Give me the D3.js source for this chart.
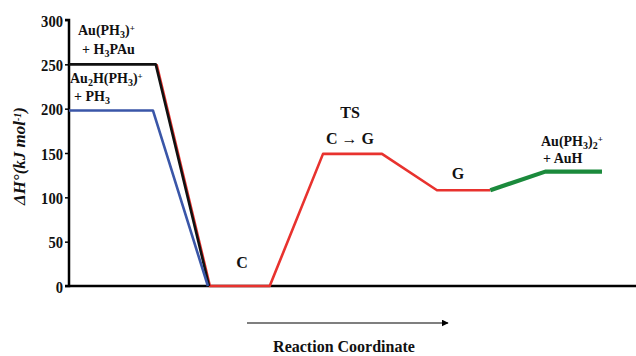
<!DOCTYPE html>
<html>
<head>
<meta charset="utf-8">
<script src="https://cdn.jsdelivr.net/npm/d3@7"></script>
</head>
<body style="margin:0; background:#fff">
<svg id="chart" width="636" height="356" font-family="Liberation Serif" font-weight="bold"></svg>
<script>
// reaction coordinate (arbitrary units 0..100) and enthalpy (kJ/mol)
var blackX = [0, 15.3, 24.7],
    blackY = [250, 250, 0];
var blueX = [0, 14.8, 24.5],
    blueY = [198, 198, 0];
var redX = [15.45, 24.85, 35.4, 44.8, 55.2, 64.9, 74.3],
    redY = [250, 0, 0, 149, 149, 108, 108];
var greenX = [74.3, 84, 94],
    greenY = [108, 129, 129];
var yTicks = [0, 50, 100, 150, 200, 250, 300];

var FONT = 'Liberation Serif';

var svg = d3.select('#chart'),
    x = d3.scaleLinear().domain([0, 100]).range([69, 636]),
    y = d3.scaleLinear().domain([0, 300]).range([286, 20]);

function pts(xs, ys) {
    return xs.map(function (v, i) { return [v, ys[i]]; });
}

var line = d3.line()
    .x(function (d) { return x(d[0]); })
    .y(function (d) { return y(d[1]); });

// y axis
var yAxis = svg.append('g')
    .attr('transform', 'translate(69,0)')
    .call(d3.axisLeft(y).tickValues(yTicks).tickSize(4).tickPadding(3));
yAxis.attr('font-size', 17).attr('font-family', FONT);
yAxis.select('.domain').attr('stroke', '#000').attr('stroke-width', 2.5)
    .attr('d', 'M-4,' + y(300) + 'H0V' + y(0) + 'H-4');
yAxis.selectAll('.tick line').attr('stroke', '#000').attr('stroke-width', 1.5);
yAxis.selectAll('.tick text')
    .attr('fill', '#111')
    .attr('font-weight', 'bold')
    .attr('x', null)
    .attr('dy', '0.36em')
    .attr('transform', 'translate(-6,0) scale(0.86,1)');

// x axis baseline
svg.append('line')
    .attr('x1', x(0)).attr('x2', x(100))
    .attr('y1', y(0)).attr('y2', y(0))
    .attr('stroke', '#000').attr('stroke-width', 2.5);

var series = [
    { xs: redX, ys: redY, color: '#e8322e', w: 2.6 },
    { xs: blackX, ys: blackY, color: '#111', w: 2.6 },
    { xs: blueX, ys: blueY, color: '#3a56a8', w: 2.6 },
    { xs: greenX, ys: greenY, color: '#1b8a3c', w: 4.2 }
];
series.forEach(function (s) {
    svg.append('path')
        .attr('d', line(pts(s.xs, s.ys)))
        .attr('fill', 'none')
        .attr('stroke', s.color)
        .attr('stroke-width', s.w)
        .attr('stroke-linejoin', 'round');
});

// annotations
function label(px, py, parts, anchor, size) {
    var t = svg.append('text')
        .attr('x', px).attr('y', py)
        .attr('font-family', FONT)
        .attr('font-weight', 'bold')
        .attr('fill', '#111')
        .attr('text-anchor', anchor || 'start')
        .attr('font-size', size || 14);
    parts.forEach(function (p) {
        var ts = t.append('tspan').text(p[0]);
        if (p[1] === 'sub') ts.attr('baseline-shift', '-25%').attr('font-size', 10);
        if (p[1] === 'sup') ts.attr('baseline-shift', '40%').attr('font-size', 9);
    });
    return t;
}

label(78, 35, [['Au(PH'], ['3', 'sub'], [')'], ['+', 'sup']]);
label(82, 54, [['+  H'], ['3', 'sub'], ['PAu']]);
label(70, 83, [['Au'], ['2', 'sub'], ['H(PH'], ['3', 'sub'], [')'], ['+', 'sup']]);
label(74, 101, [['+   PH'], ['3', 'sub']]);
label(242, 268, [['C']], 'middle', 16);
label(350, 118, [['TS']], 'middle', 16);
label(350, 144, [['C \u2192 G']], 'middle', 16);
label(458, 179, [['G']], 'middle', 16);
label(541, 146, [['Au(PH'], ['3', 'sub'], [')'], ['2', 'sub'], ['+', 'sup']]);
label(543, 163, [['+   AuH']]);

// y title
svg.append('text')
    .attr('transform', 'translate(25,156) rotate(-90)')
    .attr('text-anchor', 'middle')
    .attr('font-family', FONT)
    .attr('font-weight', 'bold')
    .attr('font-style', 'italic')
    .attr('font-size', 17)
    .attr('fill', '#111')
    .html('\u0394H\u00b0(kJ mol<tspan baseline-shift="40%" font-size="10">-1</tspan>)');

// reaction coordinate arrow
svg.append('defs').append('marker')
    .attr('id', 'arr').attr('viewBox', '0 0 10 10')
    .attr('refX', 9).attr('refY', 5)
    .attr('markerWidth', 7).attr('markerHeight', 7)
    .attr('markerUnits', 'userSpaceOnUse')
    .attr('orient', 'auto')
  .append('path').attr('d', 'M0,0L10,5L0,10Z').attr('fill', '#000');
svg.append('line')
    .attr('x1', 247).attr('x2', 448)
    .attr('y1', 323).attr('y2', 323)
    .attr('stroke', '#555').attr('stroke-width', 1.5)
    .attr('marker-end', 'url(#arr)');
label(344, 352, [['Reaction Coordinate']], 'middle', 16);
</script>
</body>
</html>
